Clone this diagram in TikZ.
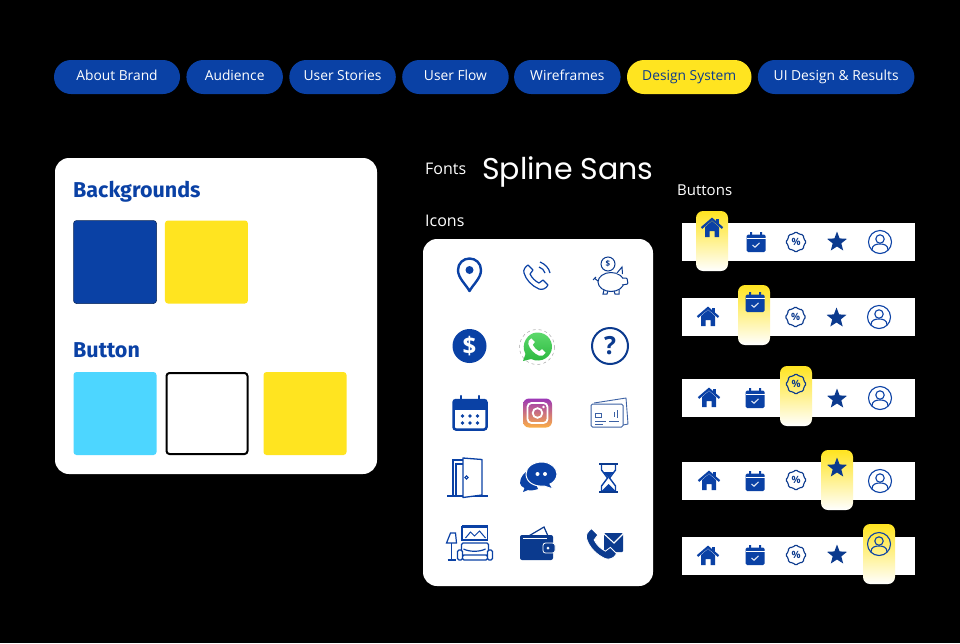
\documentclass[tikz,border=0pt]{standalone}
\usepackage{fontspec}
\setmainfont{Open Sans}
\newfontfamily\headfont{Poppins}
\newfontfamily\cardfont{Fira Sans}
\usepackage{xcolor}
\usetikzlibrary{positioning}
\definecolor{brandblue}{HTML}{0A41A5}
\definecolor{navyblue}{HTML}{0B3A8E}
\definecolor{brandyellow}{HTML}{FFE420}
\definecolor{skyblue}{HTML}{4DD6FF}
\definecolor{instapurple}{HTML}{9B36B7}
\definecolor{instapink}{HTML}{E1306C}
\definecolor{instaorange}{HTML}{FCAF45}
\definecolor{chatgreen}{HTML}{5CD96B}
\definecolor{chatdark}{HTML}{28B53C}
\newcommand{\handsetpath}{(-8,-12) -- (-3,-7) -- (-6,-3) .. controls (-4,1) and (-1,4) .. (3,6) -- (7,3) -- (12,8) .. controls (10,12) and (6,13) .. (3,12) .. controls (-4,9) and (-10,3) .. (-12,-4) .. controls (-13,-7) and (-11,-10) .. (-8,-12) -- cycle}
\tikzset{
pillnode/.style={rounded corners=17pt, fill=brandblue, text=white, minimum height=34pt, inner sep=0pt, text height=10pt, text depth=3pt, font=\fontsize{13.8}{15}\selectfont},
activenode/.style={pillnode, fill=brandyellow, text=navyblue},
cardnode/.style={fill=white, rounded corners=14pt, inner sep=0pt},
swatchnode/.style={rounded corners=3pt, minimum size=83pt, inner sep=0pt},
titlenode/.style={text=brandblue, inner sep=0pt, anchor=base west, font=\cardfont\bfseries\fontsize{21.5}{24}\selectfont},
labelnode/.style={text=white, inner sep=0pt, anchor=base west, font=\fontsize{16}{18}\selectfont},
stripnode/.style={fill=white, minimum width=233pt, minimum height=38pt, inner sep=0pt},
tabnode/.style={rounded corners=7pt, top color=brandyellow, middle color=brandyellow!55!white, bottom color=white, minimum width=32pt, minimum height=60pt, inner sep=0pt},
homeicon/.pic={
\fill[brandblue] (-7,-1) -- (0,-7) -- (7,-1) -- (7,9) -- (2.5,9) -- (2.5,3) -- (-2.5,3) -- (-2.5,9) -- (-7,9) -- cycle;
\fill[brandblue] (4,-9) rectangle (7,-4);
\draw[brandblue, line width=2.2pt] (-10.5,0) -- (0,-9) -- (10.5,0);
},
calicon/.pic={
\fill[brandblue, rounded corners=1.5pt] (-9.5,-7.5) rectangle (9.5,10);
\fill[brandblue] (-6,-10) rectangle (-4,-6) (4,-10) rectangle (6,-6);
\draw[white, line width=0.4pt] (-9.5,-4) -- (9.5,-4);
\draw[white!85!brandblue, line width=1.1pt] (-3.5,3) -- (-1,5.2) -- (3.5,0.8);
},
percicon/.pic={
\draw[navyblue, line width=1.1pt, rounded corners=1.5pt] (10.5,0) -- (7.6,3.2) -- (7.4,7.4) -- (3.2,7.6) -- (0,10.5) -- (-3.2,7.6) -- (-7.4,7.4) -- (-7.6,3.2) -- (-10.5,0) -- (-7.6,-3.2) -- (-7.4,-7.4) -- (-3.2,-7.6) -- (0,-10.5) -- (3.2,-7.6) -- (7.4,-7.4) -- (7.6,-3.2) -- cycle;
\node[text=navyblue, inner sep=0pt, font=\bfseries\fontsize{10}{10}\selectfont] (sign) at (0,0) {\%};
},
staricon/.pic={
\fill[navyblue] (0,-10.5) -- (2.6,-3.6) -- (10,-3.2) -- (4.3,1.4) -- (6.2,8.5) -- (0,4.5) -- (-6.2,8.5) -- (-4.3,1.4) -- (-10,-3.2) -- (-2.6,-3.6) -- cycle;
},
usericon/.pic={
\draw[brandblue, line width=1.1pt] (0,0) circle [radius=11.5];
\draw[brandblue, line width=1.1pt] (0,-3) circle [radius=4.2];
\draw[brandblue, line width=1.1pt] (-8,8) .. controls (-8,3) and (-4,2) .. (0,2) .. controls (4,2) and (8,3) .. (8,8);
},
pinicon/.pic={
\draw[brandblue, line width=2.4pt, line join=round] (0,16) .. controls (-4,9) and (-11.5,3) .. (-11.5,-5) .. controls (-11.5,-12) and (-6,-16.5) .. (0,-16.5) .. controls (6,-16.5) and (11.5,-12) .. (11.5,-5) .. controls (11.5,3) and (4,9) .. (0,16) -- cycle;
\fill[brandblue] (0,-5) circle [radius=4];
},
callicon/.pic={
\begin{scope}[shift={(-1,2)}]
\draw[brandblue, line width=1.2pt, line join=round] \handsetpath;
\end{scope}
\draw[brandblue, line width=1.2pt] (2,-8) .. controls (5,-7) and (7,-5) .. (8,-2);
\draw[brandblue, line width=1.2pt] (3,-13) .. controls (8,-11) and (12,-7) .. (13,-2);
},
pigicon/.pic={
\draw[navyblue, line width=1pt] (1,7) ellipse [x radius=13, y radius=9.5];
\fill[white] (6,-2) -- (12,-8) -- (13,0) -- cycle;
\draw[navyblue, line width=1pt] (7,-2) -- (12,-8) -- (12.5,-1);
\draw[navyblue, line width=1pt, fill=white, rounded corners=1pt] (12,3) -- (17,3) -- (18,9) -- (12,10);
\draw[navyblue, line width=1pt] (-6,15) -- (-7,19) -- (-3,19) -- (-2,16) (4,16) -- (5,19) -- (9,19) -- (9,15);
\draw[navyblue, line width=1pt] (-12,6) -- (-16,3) (-17,5) -- (-14,2);
\draw[navyblue, line width=1pt, fill=white] (-2,-11) circle [radius=7];
\node[text=navyblue, inner sep=0pt, font=\bfseries\fontsize{8}{8}\selectfont] (coin) at (-2,-11) {\$};
},
dollaricon/.pic={
\fill[brandblue] (0,0) circle [radius=17];
\node[text=white, inner sep=0pt, font=\bfseries\fontsize{24}{24}\selectfont] (dollar) at (0,0) {\$};
},
whatsappicon/.pic={
\draw[black!35, line width=0.5pt, dashed, fill=white] (0,0) circle [radius=17.5];
\shade[top color=chatgreen, bottom color=chatdark] (-14,14) -- (-11.5,7) .. controls (-17,-3) and (-9,-14.5) .. (0,-14.5) .. controls (9,-14.5) and (15,-8) .. (15,0) .. controls (15,9) and (5,17) .. (-6,12) -- cycle;
\begin{scope}[scale=0.72]
\fill[white] \handsetpath;
\end{scope}
},
questionicon/.pic={
\draw[navyblue, line width=2pt] (0,0) circle [radius=18];
\node[text=navyblue, inner sep=0pt, font=\bfseries\fontsize{25}{25}\selectfont] (mark) at (0,0) {?};
},
calendaricon/.pic={
\draw[brandblue, line width=2.5pt, rounded corners=2.5pt] (-16.5,-13) rectangle (16.5,16.5);
\fill[brandblue] (-16.5,-13) rectangle (16.5,-3);
\draw[brandblue, line width=2.5pt, line cap=round] (-9,-17) -- (-9,-11) (9,-17) -- (9,-11);
\fill[brandblue] (-7.5,3) circle [radius=1.8] (0,3) circle [radius=1.8] (7.5,3) circle [radius=1.8] (-7.5,10) circle [radius=1.8] (0,10) circle [radius=1.8] (7.5,10) circle [radius=1.8];
},
instaicon/.pic={
\shade[top color=instapurple, middle color=instapink, bottom color=instaorange, rounded corners=6pt] (-14.5,-14.5) rectangle (14.5,14.5);
\draw[white, line width=1.8pt, rounded corners=4pt] (-10,-10) rectangle (10,10);
\draw[white, line width=1.8pt] (0,0) circle [radius=4.8];
\fill[white] (6,-6) circle [radius=1.4];
},
cardicon/.pic={
\draw[navyblue!80, line width=0.9pt, line join=round] (-15,-10) -- (17,-15) -- (19,11) -- (14,12);
\draw[navyblue!80, line width=1pt, fill=white, rounded corners=1.5pt] (-18,-9) rectangle (14,14);
\draw[navyblue!80, line width=1pt] (-14,0) rectangle (-8,4) (-14,8) -- (-3,8) (-14,11) -- (-6,11) (0,8) -- (10,8) (5,-1) -- (5,4) (8,-3) -- (8,5);
},
dooricon/.pic={
\draw[brandblue, line width=1.2pt] (-21,19) -- (20,19);
\draw[brandblue, line width=1.2pt] (-15,19) -- (-15,-17) -- (-5,-17);
\draw[brandblue, line width=1.2pt] (-12,19) -- (-12,-13) -- (-5,-13);
\draw[brandblue, line width=1.3pt, fill=white, line join=round] (-5,-19) -- (14,-17.5) -- (14,18) -- (-5,20.5) -- cycle;
\draw[brandblue, line width=1.1pt] (-1.5,0.5) circle [radius=1.6];
},
chaticon/.pic={
\fill[brandblue] (-18,6) .. controls (-18,0) and (-13,-6) .. (-8,-7) -- (0,12) .. controls (-3,13) and (-8,14) .. (-10,13) -- (-15,15) -- (-13.5,11) .. controls (-16,10) and (-18,8) .. (-18,6) -- cycle;
\draw[white, line width=1pt, fill=brandblue] (4,-15) .. controls (12,-15) and (19,-9) .. (19,-3) .. controls (19,2) and (15,6) .. (12,7) -- (15,12) -- (6,9) .. controls (-4,10) and (-12,5) .. (-12,-3) .. controls (-12,-10) and (-5,-15) .. (4,-15) -- cycle;
\fill[white] (-0.5,-3) circle [radius=2] (7,-3) circle [radius=2];
},
hourglassicon/.pic={
\draw[navyblue, line width=2.4pt] (-9.5,-14) -- (9.5,-14) (-9.5,14) -- (9.5,14);
\draw[brandblue, line width=1.4pt] (-7,-13) -- (-7,-8) -- (-1,0) -- (-7,8) -- (-7,13) (7,-13) -- (7,-8) -- (1,0) -- (7,8) -- (7,13);
\fill[brandblue] (-5,-6) -- (5,-6) -- (0,0) -- cycle (-7,13) -- (0,6) -- (7,13) -- cycle;
},
bedroomicon/.pic={
\draw[brandblue, line width=1.2pt] (-7.5,-16) rectangle (18,-3);
\draw[brandblue, line width=2pt] (-7.5,-17) -- (18,-17);
\draw[brandblue, line width=1pt] (-4,-5) -- (1,-11) -- (5,-7) -- (10,-12) -- (16,-5);
\draw[brandblue, line width=1.2pt, rounded corners=1.5pt] (-8,8) -- (-8,0) -- (19,0) -- (19,8);
\draw[brandblue, line width=1.2pt] (-6,6) .. controls (0,9) and (10,9) .. (16,6);
\draw[brandblue, line width=1.3pt, rounded corners=1.5pt] (-12,17) rectangle (-7,7) (18,7) rectangle (23,17) (-7,12) rectangle (18,17);
\draw[brandblue, line width=1.2pt] (-19,-10) -- (-14,-10) -- (-13,0) -- (-23,0) -- cycle;
\draw[brandblue, line width=1.3pt] (-18,0) -- (-18,17) (-22,17) -- (-14,17);
},
walleticon/.pic={
\draw[navyblue, line width=1.2pt, fill=white] (-10,-7) -- (7,-17) -- (11,-8);
\fill[navyblue, rounded corners=2pt] (-17,-9) rectangle (16,16);
\draw[white, line width=0.7pt] (-14,-6) -- (10,-6);
\draw[white, line width=0.8pt, fill=navyblue, rounded corners=2.5pt] (6,-1) rectangle (18,9);
\fill[white] (11,4) circle [radius=1.5];
},
mailcallicon/.pic={
\fill[navyblue, rounded corners=1pt] (-2,-10) rectangle (17,9);
\draw[white, line width=1.1pt] (-3,-10) -- (8,0) -- (18,-10);
\begin{scope}[scale=1.25, shift={(-3.5,0.5)}]
\draw[white, line width=0.8pt, fill=navyblue] \handsetpath;
\end{scope}
}
}
\begin{document}
\begin{tikzpicture}[x=1pt, y=-1pt]
\fill[black] (0,0) rectangle (960,643);
\useasboundingbox (0,0) rectangle (960,643);

\node[pillnode, minimum width=126pt] (about) at (117,77) {About Brand};
\node[pillnode, minimum width=96.5pt] (audience) [right=6pt of about] {Audience};
\node[pillnode, minimum width=106.5pt] (stories) [right=6pt of audience] {User Stories};
\node[pillnode, minimum width=106.5pt] (flow) [right=6pt of stories] {User Flow};
\node[pillnode, minimum width=106.5pt] (wire) [right=5pt of flow] {Wireframes};
\node[activenode, minimum width=124.5pt] (system) [right=6pt of wire] {Design System};
\node[pillnode, minimum width=156.5pt] (results) [right=6pt of system] {UI Design \& Results};

\node[cardnode, minimum width=322pt, minimum height=316pt] (colorcard) at (216,316) {};
\node[titlenode] (backgrounds) at (73,197) {Backgrounds};
\node[swatchnode, fill=brandblue, draw=navyblue!60!black, line width=0.5pt] (bgblue) at (115,262) {};
\node[swatchnode, fill=brandyellow] (bgyellow) [right=8pt of bgblue] {};
\node[titlenode] (button) at (73,357) {Button};
\node[swatchnode, fill=skyblue] (btncyan) at (115,413.5) {};
\node[swatchnode, fill=white, draw=black, line width=2pt, minimum size=81pt] (btnwhite) at (207,413.5) {};
\node[swatchnode, fill=brandyellow] (btnyellow) at (305,413.5) {};

\node[labelnode] (fonts) at (425,174) {Fonts};
\node[labelnode, font=\headfont\fontsize{30}{36}\selectfont] (spline) at (482,179) {Spline Sans};
\node[labelnode, font=\fontsize{15}{18}\selectfont] (buttons) at (677,195) {Buttons};
\node[labelnode] (icons) at (425,226) {Icons};

\node[cardnode, minimum width=230pt, minimum height=347pt] (iconcard) at (538,412.5) {};
\pic at (469.5,275) {pinicon};
\pic at (537,275) {callicon};
\pic at (610,275) {pigicon};
\pic at (469.5,346) {dollaricon};
\pic at (537,347) {whatsappicon};
\pic at (610,346) {questionicon};
\pic at (470,413) {calendaricon};
\pic at (537.5,413) {instaicon};
\pic at (609,413) {cardicon};
\pic at (468,477) {dooricon};
\pic at (538,477) {chaticon};
\pic at (608.5,478) {hourglassicon};
\pic at (469.5,543) {bedroomicon};
\pic at (537,544) {walleticon};
\pic at (606,543) {mailcallicon};

\node[stripnode] (strip1) at (798.5,242) {};
\node[tabnode] (tab1) at (712,241) {};
\pic at (712,228) {homeicon};
\pic at (756,242) {calicon};
\pic at (796,242) {percicon};
\pic at (837,242) {staricon};
\pic at (880,242) {usericon};

\node[stripnode] (strip2) at (798.5,317) {};
\node[tabnode] (tab2) at (754,315) {};
\pic at (708,317) {homeicon};
\pic at (755,302) {calicon};
\pic at (795.5,317) {percicon};
\pic at (836.5,318) {staricon};
\pic at (879,317) {usericon};

\node[stripnode] (strip3) at (798.5,398) {};
\node[tabnode] (tab3) at (796,396) {};
\pic at (709,398) {homeicon};
\pic at (755,398) {calicon};
\pic at (796,384) {percicon};
\pic at (837,399) {staricon};
\pic at (880,398) {usericon};

\node[stripnode] (strip4) at (798.5,481) {};
\node[tabnode] (tab4) at (837,480) {};
\pic at (709,481) {homeicon};
\pic at (755,481) {calicon};
\pic at (796,480) {percicon};
\pic at (837,468) {staricon};
\pic at (880,481) {usericon};

\node[stripnode] (strip5) at (798.5,556) {};
\node[tabnode] (tab5) at (879,554) {};
\pic at (708,556) {homeicon};
\pic at (755,555) {calicon};
\pic at (796,555) {percicon};
\pic at (837,555) {staricon};
\pic at (879,544) {usericon};
\end{tikzpicture}
\end{document}
